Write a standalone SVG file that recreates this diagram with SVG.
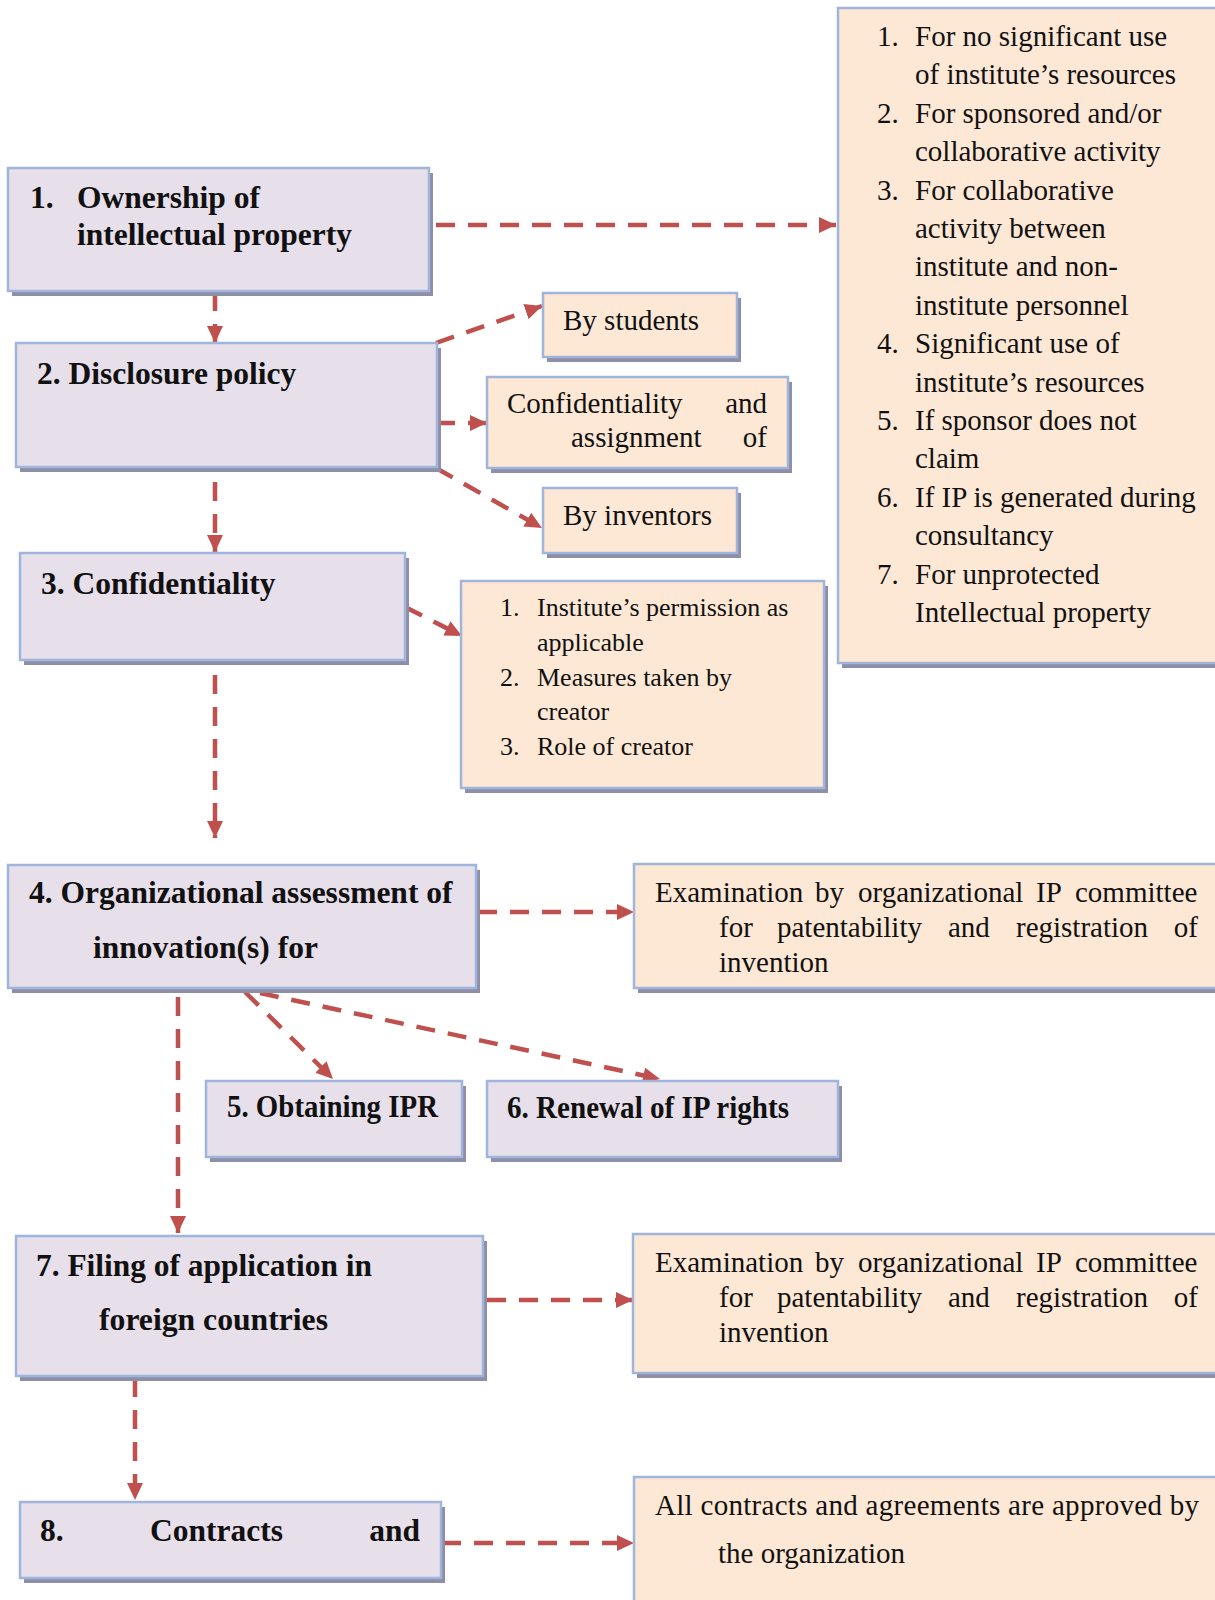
<svg xmlns="http://www.w3.org/2000/svg" width="1215" height="1600" viewBox="0 0 1215 1600">
<style>
.bg{fill:#ffffff}
.sh{fill:#8e8fa7}
.pu{fill:#e7dfea;stroke:#a0b5dc;stroke-width:2.5}
.pe{fill:#fde7d5;stroke:#a0b5dc;stroke-width:2.5}
.b{font-family:"Liberation Serif","Times New Roman",serif;font-weight:bold;font-size:31.5px;fill:#111}
.r{font-family:"Liberation Serif","Times New Roman",serif;font-size:29px;fill:#111}
.s{font-family:"Liberation Serif","Times New Roman",serif;font-size:26px;fill:#111}
.c{fill:none;stroke:#c0504d;stroke-width:4.5;stroke-dasharray:19 13}
</style>
<defs>
<marker id="ah" markerUnits="userSpaceOnUse" markerWidth="17" markerHeight="16" refX="17" refY="8" orient="auto">
<path d="M0,0 L17,8 L0,16 z" fill="#c0504d"/>
</marker>
</defs>
<rect class="bg" x="0" y="0" width="1215" height="1600"/>

<g id="connectors">
<line class="c" x1="215" y1="292" x2="215" y2="343" marker-end="url(#ah)"/>
<line class="c" x1="215" y1="482" x2="215" y2="552" marker-end="url(#ah)"/>
<line class="c" x1="215" y1="675" x2="215" y2="838" marker-end="url(#ah)"/>
<line class="c" x1="178" y1="997" x2="178" y2="1233" marker-end="url(#ah)"/>
<line class="c" x1="135" y1="1378" x2="135" y2="1500" marker-end="url(#ah)"/>
<line class="c" x1="436" y1="225" x2="836" y2="225" marker-end="url(#ah)"/>
<line class="c" x1="436" y1="343" x2="542" y2="306" marker-end="url(#ah)"/>
<line class="c" x1="436" y1="423" x2="487" y2="423" marker-end="url(#ah)"/>
<line class="c" x1="436" y1="468" x2="542" y2="528" marker-end="url(#ah)"/>
<line class="c" x1="405" y1="607" x2="462" y2="636" marker-end="url(#ah)"/>
<line class="c" x1="478" y1="912" x2="634" y2="912" marker-end="url(#ah)"/>
<line class="c" x1="245" y1="992" x2="333" y2="1079" marker-end="url(#ah)"/>
<line class="c" x1="260" y1="993" x2="660" y2="1079" marker-end="url(#ah)"/>
<line class="c" x1="487" y1="1300" x2="633" y2="1300" marker-end="url(#ah)"/>
<line class="c" x1="442" y1="1543" x2="634" y2="1543" marker-end="url(#ah)"/>
</g>

<g id="n1">
<rect class="sh" x="12" y="173" width="421" height="123"/>
<rect class="pu" x="8" y="168" width="421" height="123"/>
<text class="b" x="30" y="208">1.</text>
<text class="b" x="77" y="208">Ownership of</text>
<text class="b" x="77" y="245">intellectual property</text>
</g>

<g id="n2">
<rect class="sh" x="20" y="348" width="421" height="124"/>
<rect class="pu" x="16" y="343" width="421" height="124"/>
<text class="b" x="37" y="384">2. Disclosure policy</text>
</g>

<g id="n2a">
<rect class="sh" x="547" y="298" width="194" height="64"/>
<rect class="pe" x="543" y="293" width="194" height="64"/>
<text class="r" x="563" y="330">By students</text>
</g>

<g id="n2b">
<rect class="sh" x="491" y="382" width="301" height="91"/>
<rect class="pe" x="487" y="377" width="301" height="91"/>
<text class="r" x="507" y="413">Confidentiality</text>
<text class="r" x="767" y="413" text-anchor="end">and</text>
<text class="r" x="571" y="447">assignment</text>
<text class="r" x="767" y="447" text-anchor="end">of</text>
</g>

<g id="n2c">
<rect class="sh" x="547" y="493" width="194" height="65"/>
<rect class="pe" x="543" y="488" width="194" height="65"/>
<text class="r" x="563" y="525">By inventors</text>
</g>

<g id="n1a">
<rect class="sh" x="842" y="13" width="400" height="655"/>
<rect class="pe" x="838" y="8" width="400" height="655"/>
<text class="r" x="877" y="46">1.</text><text class="r" x="915" y="46">For no significant use</text>
<text class="r" x="915" y="84.4">of institute’s resources</text>
<text class="r" x="877" y="122.8">2.</text><text class="r" x="915" y="122.8">For sponsored and/or</text>
<text class="r" x="915" y="161.2">collaborative activity</text>
<text class="r" x="877" y="199.6">3.</text><text class="r" x="915" y="199.6">For collaborative</text>
<text class="r" x="915" y="238">activity between</text>
<text class="r" x="915" y="276.4">institute and non-</text>
<text class="r" x="915" y="314.8">institute personnel</text>
<text class="r" x="877" y="353.2">4.</text><text class="r" x="915" y="353.2">Significant use of</text>
<text class="r" x="915" y="391.6">institute’s resources</text>
<text class="r" x="877" y="430">5.</text><text class="r" x="915" y="430">If sponsor does not</text>
<text class="r" x="915" y="468.4">claim</text>
<text class="r" x="877" y="506.8">6.</text><text class="r" x="915" y="506.8">If IP is generated during</text>
<text class="r" x="915" y="545.2">consultancy</text>
<text class="r" x="877" y="583.6">7.</text><text class="r" x="915" y="583.6">For unprotected</text>
<text class="r" x="915" y="622">Intellectual property</text>
</g>

<g id="n3">
<rect class="sh" x="24" y="558" width="385" height="107"/>
<rect class="pu" x="20" y="553" width="385" height="107"/>
<text class="b" x="41" y="594">3. Confidentiality</text>
</g>

<g id="n3a">
<rect class="sh" x="465" y="586" width="363" height="207"/>
<rect class="pe" x="461" y="581" width="363" height="207"/>
<text class="s" x="500" y="616">1.</text><text class="s" x="537" y="616">Institute’s permission as</text>
<text class="s" x="537" y="650.8">applicable</text>
<text class="s" x="500" y="685.6">2.</text><text class="s" x="537" y="685.6">Measures taken by</text>
<text class="s" x="537" y="720.4">creator</text>
<text class="s" x="500" y="755.2">3.</text><text class="s" x="537" y="755.2">Role of creator</text>
</g>

<g id="n4">
<rect class="sh" x="12" y="870" width="468" height="123"/>
<rect class="pu" x="8" y="865" width="468" height="123"/>
<text class="b" x="29" y="903">4. Organizational assessment of</text>
<text class="b" x="93" y="958">innovation(s) for</text>
</g>

<g id="n4a">
<rect class="sh" x="638" y="869" width="600" height="124"/>
<rect class="pe" x="634" y="864" width="600" height="124"/>
<text class="r" y="902"><tspan x="655">Examination</tspan><tspan x="815">by</tspan><tspan x="858">organizational</tspan><tspan x="1036">IP</tspan><tspan x="1075">committee</tspan></text>
<text class="r" y="937"><tspan x="719">for</tspan><tspan x="777">patentability</tspan><tspan x="948">and</tspan><tspan x="1016">registration</tspan></text>
<text class="r" x="1198" y="937" text-anchor="end">of</text>
<text class="r" x="719" y="972">invention</text>
</g>

<g id="n5">
<rect class="sh" x="210" y="1086" width="256" height="76"/>
<rect class="pu" x="206" y="1081" width="256" height="76"/>
<text class="b" x="227" y="1117" textLength="211" lengthAdjust="spacingAndGlyphs">5. Obtaining IPR</text>
</g>

<g id="n6">
<rect class="sh" x="491" y="1086" width="351" height="76"/>
<rect class="pu" x="487" y="1081" width="351" height="76"/>
<text class="b" x="507" y="1118" textLength="282" lengthAdjust="spacingAndGlyphs">6. Renewal of IP rights</text>
</g>

<g id="n7">
<rect class="sh" x="20" y="1241" width="467" height="140"/>
<rect class="pu" x="16" y="1236" width="467" height="140"/>
<text class="b" x="36" y="1276" textLength="336" lengthAdjust="spacingAndGlyphs">7. Filing of application in</text>
<text class="b" x="99" y="1330" textLength="229" lengthAdjust="spacingAndGlyphs">foreign countries</text>
</g>

<g id="n7a">
<rect class="sh" x="637" y="1239" width="600" height="139"/>
<rect class="pe" x="633" y="1234" width="600" height="139"/>
<text class="r" y="1272"><tspan x="655">Examination</tspan><tspan x="815">by</tspan><tspan x="858">organizational</tspan><tspan x="1036">IP</tspan><tspan x="1075">committee</tspan></text>
<text class="r" y="1307"><tspan x="719">for</tspan><tspan x="777">patentability</tspan><tspan x="948">and</tspan><tspan x="1016">registration</tspan></text>
<text class="r" x="1198" y="1307" text-anchor="end">of</text>
<text class="r" x="719" y="1342">invention</text>
</g>

<g id="n8">
<rect class="sh" x="24" y="1507" width="421" height="76"/>
<rect class="pu" x="20" y="1502" width="421" height="76"/>
<text class="b" x="40" y="1541">8.</text>
<text class="b" x="150" y="1541">Contracts</text>
<text class="b" x="420" y="1541" text-anchor="end">and</text>
</g>

<g id="n8a">
<rect class="sh" x="638" y="1482" width="600" height="140"/>
<rect class="pe" x="634" y="1477" width="600" height="140"/>
<text class="r" x="655" y="1515" textLength="544" lengthAdjust="spacing">All contracts and agreements are approved by</text>
<text class="r" x="718" y="1563">the organization</text>
</g>
</svg>
